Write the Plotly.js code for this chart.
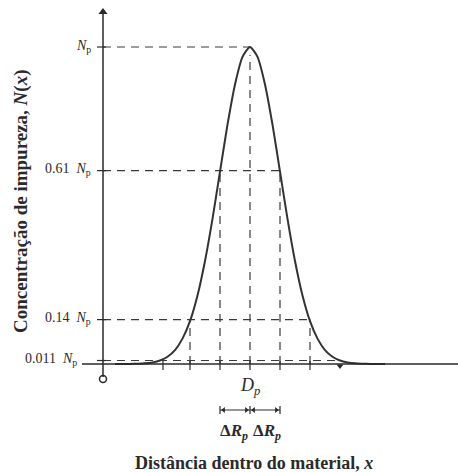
<!DOCTYPE html>
<html>
<head>
<meta charset="utf-8">
<script src="https://cdn.plot.ly/plotly-3.0.1.min.js"></script>
<style>html,body{margin:0;padding:0;background:#fff;}#chart{width:458px;height:472px;}</style>
</head>
<body>
<div id="chart"></div>
<script>
// Distance from Dp in units of ΔRp, and relative concentration N/Np
const offsets = [-4.5,-4.25,-4,-3.75,-3.5,-3.25,-3,-2.75,-2.5,-2.25,-2,-1.75,-1.5,-1.25,-1,-0.75,-0.5,-0.25,0,
                 0.25,0.5,0.75,1,1.25,1.5,1.75,2,2.25,2.5,2.75,3,3.25,3.5,3.75,4,4.25,4.5];
const conc = [0,0,0.0003,0.001,0.002,0.005,0.011,0.023,0.044,0.080,0.135,0.216,0.325,0.458,0.607,0.755,0.882,0.969,1,
              0.969,0.882,0.755,0.607,0.458,0.325,0.216,0.135,0.080,0.044,0.023,0.011,0.005,0.002,0.001,0.0003,0,0];
// Reference levels on the concentration axis
const levelValues = [1, 0.61, 0.14, 0.011];
const levelLabels = ['<i>N</i><sub>p</sub>', '0.61\u00a0\u00a0<i>N</i><sub>p</sub>', '0.14\u00a0\u00a0<i>N</i><sub>p</sub>', '0.011\u00a0\u00a0<i>N</i><sub>p</sub>'];
const levelReach = [0, 1, 2, 3];        // where each dashed level meets the curve (ΔRp units, right side)
const tickPositions = [-2.9, -2, -1, 0, 1, 2];
const arrowTickPosition = 3;
const rangeMarks = [-1, 0, 1];          // ΔRp dimension bars
const xTitle = '<b>Distância dentro do material, <i>x</i></b>';
const yTitle = '<b>Concentração de impureza, <i>N</i>(<i>x</i>)</b>';
const rangeLabel = '<b>Δ<i>R</i></b><sub><b><i>p</i></b></sub>';
const depthLabel = '<i>D</i><sub><i>p</i></sub>';

// pixel -> data helpers for layout placement
const X = px => (px - 250) / 30;
const Y = py => (364 - py) / 317;
const yAxisX = X(103);
const ink = '#2a2a2a';
const dashCol = '#3a3a3a';
const serif = 'Liberation Serif, Times New Roman, serif';

const shapes = [];
const dashLine = {color: dashCol, width: 1.2, dash: '8px,6px'};
levelValues.forEach((v, i) => {
  shapes.push({type:'line', layer:'below', x0:yAxisX, x1:levelReach[i], y0:v, y1:v, line:dashLine});
  shapes.push({type:'line', x0:X(97), x1:X(106), y0:v, y1:v, line:{color:ink, width:1.2}});
});
shapes.push({type:'line', layer:'below', x0:0, x1:0, y0:0, y1:0.975, line:dashLine});
[1, 2].forEach(i => {
  [-1, 1].forEach(s => {
    shapes.push({type:'line', layer:'below', x0:s*levelReach[i], x1:s*levelReach[i], y0:0, y1:levelValues[i], line:dashLine});
  });
});
tickPositions.forEach(t => {
  shapes.push({type:'line', x0:t, x1:t, y0:Y(361), y1:Y(370), line:{color:ink, width:1.2}});
});
// x axis and y axis
shapes.push({type:'line', x0:X(82), x1:X(460), y0:0, y1:0, line:{color:ink, width:1.5}});
shapes.push({type:'line', x0:yAxisX, x1:yAxisX, y0:Y(377), y1:Y(14), line:{color:ink, width:1.5}});
// ΔRp dimension bars
rangeMarks.forEach(t => {
  shapes.push({type:'line', x0:t, x1:t, y0:Y(406), y1:Y(414), line:{color:ink, width:1.2}});
});
shapes.push({type:'line', x0:rangeMarks[0], x1:rangeMarks[2], y0:Y(410), y1:Y(410), line:{color:ink, width:1}});

const annotations = [];
levelValues.forEach((v, i) => {
  annotations.push({x: i === 3 ? X(79) : X(93), y: v, yshift: 1, xanchor:'right', yanchor:'middle', showarrow:false,
    text: levelLabels[i], font:{family:serif, size:14, color:ink}});
});
annotations.push({x:0, y:Y(386), text:depthLabel, showarrow:false, xanchor:'center', yanchor:'middle',
  font:{family:serif, size:18, color:ink}});
annotations.push({x:-0.55, y:Y(432), text:rangeLabel, showarrow:false, xanchor:'center', yanchor:'middle',
  font:{family:serif, size:17, color:ink}});
annotations.push({x:0.57, y:Y(432), text:rangeLabel, showarrow:false, xanchor:'center', yanchor:'middle',
  font:{family:serif, size:17, color:ink}});
annotations.push({x:X(254), y:Y(463), text:xTitle, showarrow:false, xanchor:'center', yanchor:'middle',
  font:{family:serif, size:18, color:ink}});
annotations.push({x:X(21), y:Y(201), text:yTitle, showarrow:false, textangle:-90, xanchor:'center', yanchor:'middle',
  font:{family:serif, size:19, color:ink}});

const traces = [
  {x: offsets, y: conc, type:'scatter', mode:'lines', line:{color:'#333', width:2, shape:'spline', smoothing:0.6}, hoverinfo:'skip'},
  {x:[yAxisX], y:[Y(379)], type:'scatter', mode:'markers', marker:{symbol:'circle', size:7, color:'#fff', line:{color:ink, width:1.5}}, hoverinfo:'skip'},
  {x:[yAxisX], y:[Y(12)], type:'scatter', mode:'markers', marker:{symbol:'triangle-up', size:8, color:ink}, hoverinfo:'skip'},
  {x:[arrowTickPosition], y:[Y(366)], type:'scatter', mode:'markers', marker:{symbol:'triangle-down', size:6, color:ink}, hoverinfo:'skip'},
  {x:[rangeMarks[0] + 0.12, rangeMarks[1] + 0.12], y:[Y(410), Y(410)], type:'scatter', mode:'markers',
   marker:{symbol:'triangle-left', size:5, color:ink}, hoverinfo:'skip'},
  {x:[rangeMarks[1] - 0.12, rangeMarks[2] - 0.12], y:[Y(410), Y(410)], type:'scatter', mode:'markers',
   marker:{symbol:'triangle-right', size:5, color:ink}, hoverinfo:'skip'}
];

const layout = {
  width:458, height:472,
  margin:{l:0, r:0, t:0, b:0},
  paper_bgcolor:'#fff', plot_bgcolor:'#fff',
  showlegend:false,
  xaxis:{range:[X(0), X(458)], visible:false, fixedrange:true},
  yaxis:{range:[Y(472), Y(0)], visible:false, fixedrange:true},
  shapes: shapes,
  annotations: annotations
};
Plotly.newPlot('chart', traces, layout, {staticPlot:true, displayModeBar:false});
</script>
</body>
</html>
